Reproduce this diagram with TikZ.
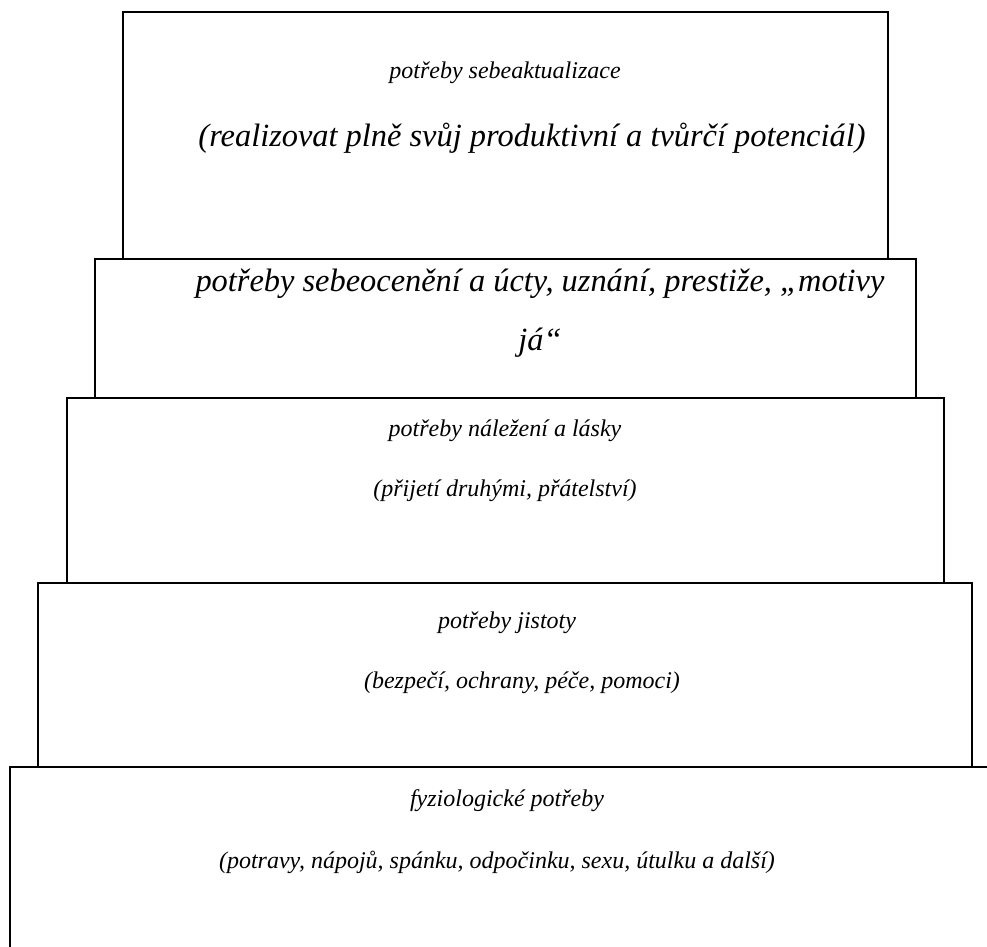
\documentclass[tikz,border=0pt]{standalone}
\usepackage{fontspec}
\setmainfont{Liberation Serif}
\usetikzlibrary{positioning}
\tikzset{
    tier/.style={draw, line width=1.4pt},
    tierText/.style={font=\fontsize{24}{29}\selectfont\itshape, inner sep=0pt, anchor=base},
    tierBig/.style={tierText, font=\fontsize{32.4}{38}\selectfont\itshape},
}

\begin{document}
\begin{tikzpicture}[x=1pt, y=-1pt]
    \useasboundingbox (0,0) rectangle (987,946);
    \clip (0,0) rectangle (987,946);

    % 1. sebeaktualizace
    \draw[tier] (123,259) -- (123,12) -- (888,12) -- (888,259);
    \node[tierText] (t1a) at (505,78) {potřeby sebeaktualizace};
    \node[tierBig] (t1b) at (532,146) {(realizovat plně svůj produktivní a tvůrčí potenciál)};

    % 2. sebeoceneni
    \draw[tier] (95,398) -- (95,259) -- (916,259) -- (916,398);
    \node[tierBig] (t2a) at (540,291) {potřeby sebeocenění a úcty, uznání, prestiže, „motivy};
    \node[tierBig] (t2b) at (540,350) {já“};

    % 3. nalezeni a lasky
    \draw[tier] (67,583) -- (67,398) -- (944,398) -- (944,583);
    \node[tierText] (t3a) at (505,436) {potřeby náležení a lásky};
    \node[tierText] (t3b) at (505,496) {(přijetí druhými, přátelství)};

    % 4. jistoty
    \draw[tier] (38,767) -- (38,583) -- (972,583) -- (972,767);
    \node[tierText] (t4a) at (507,628) {potřeby jistoty};
    \node[tierText] (t4b) at (522,688) {(bezpečí, ochrany, péče, pomoci)};

    % 5. fyziologicke
    \draw[tier] (10,960) -- (10,767) -- (1000,767);
    \node[tierText] (t5a) at (507,806) {fyziologické potřeby};
    \node[tierText] (t5b) at (497,868) {(potravy, nápojů, spánku, odpočinku, sexu, útulku a další)};

\end{tikzpicture}
\end{document}
